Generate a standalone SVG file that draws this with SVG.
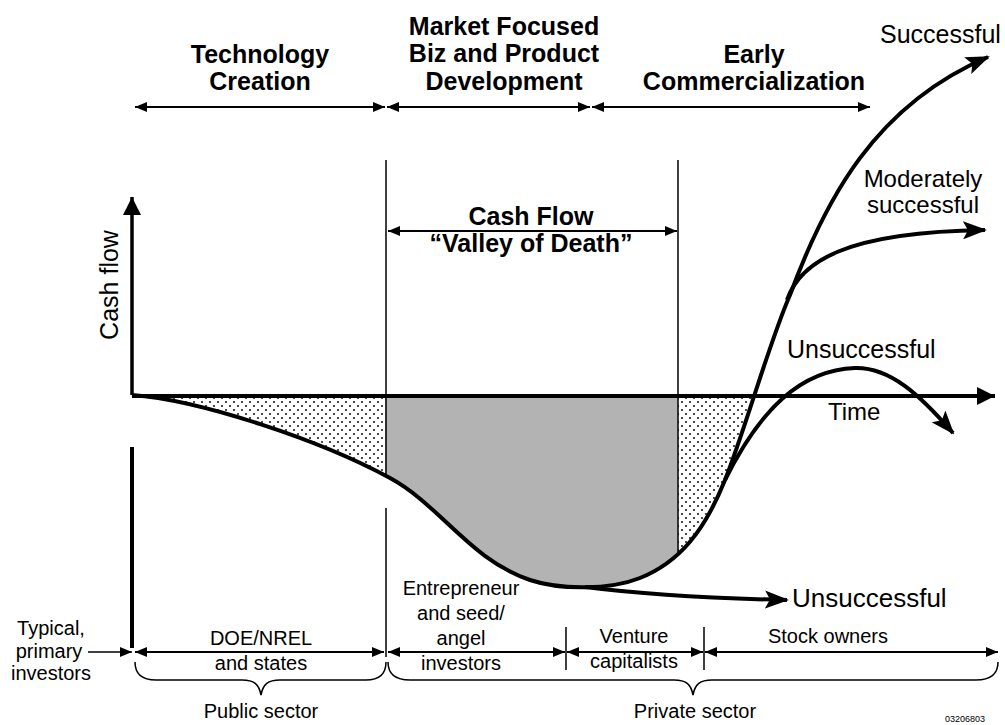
<svg xmlns="http://www.w3.org/2000/svg" width="1005" height="725" viewBox="0 0 1005 725">
<style>
text{font-family:"Liberation Sans",Arial,sans-serif;fill:#000}
.h{font-size:25px;font-weight:bold;text-anchor:middle}
.l{font-size:25px}
.m{font-size:20px;text-anchor:middle}
.thin{stroke:#000;stroke-width:1.5;fill:none}
.dbl{stroke:#000;stroke-width:2;fill:none;marker-start:url(#ah);marker-end:url(#ah)}
.thick{stroke:#000;stroke-width:4;fill:none}
.brace{stroke:#000;stroke-width:1.5;fill:none}
</style>
<defs>
<marker id="ah" viewBox="0 0 12 10" refX="12" refY="5" markerWidth="12" markerHeight="10" markerUnits="userSpaceOnUse" orient="auto-start-reverse">
<path d="M0,0 L12,5 L0,10 z" fill="#000"/>
</marker>
<marker id="bh" viewBox="0 0 24 18" refX="22" refY="9" markerWidth="24" markerHeight="18" markerUnits="userSpaceOnUse" orient="auto">
<path d="M0,0 L24,9 L0,18 L5,9 z" fill="#000"/>
</marker>
<marker id="th" viewBox="0 0 18 18" refX="18" refY="9" markerWidth="18" markerHeight="18" markerUnits="userSpaceOnUse" orient="auto">
<path d="M0,0 L18,9 L0,18 z" fill="#000"/>
</marker>
<pattern id="dots" width="8" height="8" patternUnits="userSpaceOnUse">
<rect width="8" height="8" fill="#fff"/>
<circle cx="2" cy="2" r="1.1" fill="#222"/>
<circle cx="6" cy="6" r="1.1" fill="#222"/>
</pattern>
<clipPath id="below"><rect x="0" y="396" width="1005" height="329"/></clipPath>
<clipPath id="region"><path d="M132,395 C200,400 320,440 390,478 C440,505 470,560 530,580 C560,590 610,590 640,578 C680,562 705,530 725,480 C745,430 770,340 790,295 L790,395 Z"/></clipPath>
</defs>

<g id="fills" clip-path="url(#below)">
<g clip-path="url(#region)">
<rect x="132" y="390" width="253" height="220" fill="url(#dots)"/>
<rect x="385" y="390" width="293" height="220" fill="#b3b3b3"/>
<rect x="678" y="390" width="120" height="220" fill="url(#dots)"/>
</g>
</g>

<g id="phase-headers">
<text class="h" x="260" y="63">Technology</text>
<text class="h" x="260" y="90">Creation</text>
<text class="h" x="504" y="35">Market Focused</text>
<text class="h" x="504" y="62">Biz and Product</text>
<text class="h" x="504" y="90">Development</text>
<text class="h" x="754" y="63">Early</text>
<text class="h" x="754" y="90">Commercialization</text>
</g>

<g id="connectors">
<line class="dbl" x1="135" y1="107" x2="385" y2="107"/>
<line class="dbl" x1="387" y1="107" x2="590" y2="107"/>
<line class="dbl" x1="592" y1="107" x2="870" y2="107"/>
<line class="thin" x1="386" y1="160" x2="386" y2="477"/>
<line class="thin" x1="386" y1="508" x2="386" y2="657"/>
<line class="thin" x1="678" y1="160" x2="678" y2="552"/>
<line class="dbl" x1="388" y1="231" x2="677" y2="231"/>
<line x1="132" y1="395" x2="132" y2="197" stroke="#000" stroke-width="3.5" marker-end="url(#th)"/>
<line x1="132" y1="396" x2="995" y2="396" stroke="#000" stroke-width="4" marker-end="url(#th)"/>
<line x1="132" y1="447" x2="132" y2="648" stroke="#000" stroke-width="4"/>
<path class="thick" d="M132,395 C200,400 320,440 390,478 C440,505 470,560 530,580 C560,590 610,590 640,578 C680,562 705,530 725,480 C745,430 770,340 790,295 C825,200 875,105 988,57" marker-end="url(#bh)"/>
<path class="thick" d="M787,300 C800,262 845,232 985,230" marker-end="url(#bh)"/>
<path class="thick" d="M725,480 C760,410 800,370 855,368 C890,367 920,395 953,433" marker-end="url(#bh)"/>
<path class="thick" stroke-width="3.5" d="M585,587 C640,594 700,598 787,600" marker-end="url(#bh)"/>
<line stroke="#000" stroke-width="1.5" x1="88" y1="652" x2="132" y2="652" marker-end="url(#ah)"/>
<line class="dbl" x1="135" y1="652" x2="384" y2="652"/>
<line class="dbl" x1="388" y1="652" x2="565" y2="652"/>
<line class="dbl" x1="567" y1="652" x2="703" y2="652"/>
<line class="dbl" x1="705" y1="652" x2="998" y2="652"/>
<line class="thin" x1="566" y1="627" x2="566" y2="670"/>
<line class="thin" x1="704" y1="627" x2="704" y2="670"/>
<path class="brace" d="M135,662 C135,673 141,680 156,680 L242,680 C254,680 259,684 261,695 C263,684 268,680 280,680 L366,680 C381,680 386,673 386,662"/>
<path class="brace" d="M388,662 C388,673 394,680 410,680 L674,680 C686,680 691,684 693,695 C695,684 700,680 712,680 L976,680 C992,680 998,673 998,662"/>
</g>

<g id="cash-flow-valley">
<text class="h" x="531" y="225">Cash Flow</text>
<text class="h" x="531" y="252">“Valley of Death”</text>
</g>

<g id="axes-labels">
<text class="l" font-size="24" text-anchor="middle" transform="translate(118,285) rotate(-90)">Cash flow</text>
<text class="l" x="828" y="420" style="font-size:24px">Time</text>
</g>

<g id="outcomes">
<text class="l" x="880" y="43">Successful</text>
<text class="l" x="923" y="187" text-anchor="middle" style="font-size:24px">Moderately</text>
<text class="l" x="923" y="213" text-anchor="middle" style="font-size:24px">successful</text>
<text class="l" x="787" y="358">Unsuccessful</text>
<text class="l" x="792" y="607" style="font-size:26px">Unsuccessful</text>
</g>

<g id="investors">
<text class="m" x="51" y="635">Typical,</text>
<text class="m" x="49" y="658">primary</text>
<text class="m" x="51" y="680">investors</text>
<text class="m" x="261" y="645">DOE/NREL</text>
<text class="m" x="261" y="670">and states</text>
<text class="m" x="461" y="595">Entrepreneur</text>
<text class="m" x="461" y="620">and seed/</text>
<text class="m" x="461" y="645">angel</text>
<text class="m" x="461" y="670">investors</text>
<text class="m" x="634" y="643">Venture</text>
<text class="m" x="634" y="668">capitalists</text>
<text class="m" x="828" y="643">Stock owners</text>
</g>

<g id="sectors">
<text class="m" x="261" y="718">Public sector</text>
<text class="m" x="695" y="718">Private sector</text>
<text x="965" y="722" font-size="9" text-anchor="middle">03206803</text>
</g>
</svg>
